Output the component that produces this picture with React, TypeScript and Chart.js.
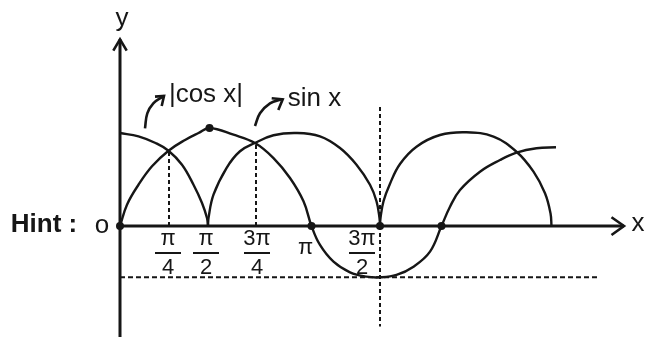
import React, { useEffect, useRef } from "react";
import { Chart, registerables } from "chart.js";

Chart.register(...registerables);

type P = [number, number];

const INK = "#161616";
const FONT = '"Liberation Sans", Arial, sans-serif';

// Curves (x in drawing units, y with peak ≈ 1)
const sinCurve: P[] = [
  [0, 0], [0.14, 0.227], [0.37, 0.439], [0.64, 0.635], [0.97, 0.801], [1.31, 0.918],
  [1.57, 0.989], [1.79, 1.043], [2.27, 0.971], [2.7, 0.883], [3.07, 0.723], [3.4, 0.511],
  [3.67, 0.263], [3.83, 0], [4.0, -0.202], [4.27, -0.38], [4.6, -0.493], [4.93, -0.539],
  [5.2, -0.546], [5.53, -0.521], [5.87, -0.433], [6.2, -0.273], [6.43, 0], [6.6, 0.205],
  [6.8, 0.383], [7.2, 0.578], [7.6, 0.702], [7.93, 0.78], [8.33, 0.827], [8.72, 0.837],
];

const absCosArc1: P[] = [
  [0, 0.989], [0.37, 0.954], [0.71, 0.883], [0.97, 0.801], [1.24, 0.652], [1.47, 0.439],
  [1.64, 0.245], [1.74, 0.085], [1.76, 0],
];

const absCosArc2: P[] = [
  [1.76, 0], [1.77, 0.085], [1.87, 0.333], [2.13, 0.617], [2.4, 0.795], [2.7, 0.883],
  [3.07, 0.965], [3.53, 0.989], [4.0, 0.954], [4.4, 0.83], [4.73, 0.652], [5.0, 0.439],
  [5.13, 0.263], [5.19, 0.085], [5.2, 0],
];

const absCosArc3: P[] = [
  [5.2, 0], [5.21, 0.085], [5.27, 0.263], [5.4, 0.45], [5.6, 0.66], [5.93, 0.844],
  [6.4, 0.968], [6.93, 0.997], [7.47, 0.95], [7.93, 0.79], [8.27, 0.578], [8.5, 0.348],
  [8.61, 0.135], [8.63, 0],
];

const keyPoints: P[] = [[0, 0], [1.79, 1.043], [3.83, 0], [5.2, 0], [6.43, 0]];

const guideLines: P[][] = [
  [[0.98, 0], [0.98, 0.8]],
  [[2.72, 0], [2.72, 0.883]],
  [[5.2, 1.266], [5.2, -1.07]],
  [[0, -0.546], [9.54, -0.546]],
];

const xAxisLine: P[] = [[0, 0], [10.08, 0]];
const yAxisLine: P[] = [[0, -1.181], [0, 1.986]];
const xArrowHead: P[] = [[9.83, 0.093], [10.08, 0], [9.83, -0.096]];
const yArrowHead: P[] = [[-0.134, 1.865], [0, 1.986], [0.134, 1.865]];

const cosPointer: P[] = [[0.5, 1.039], [0.546, 1.199], [0.666, 1.305], [0.834, 1.369], [0.88, 1.383]];
const cosPointerHead: P[] = [[0.7, 1.376], [0.88, 1.383], [0.834, 1.277]];
const sinPointer: P[] = [[2.7, 1.064], [2.8, 1.199], [3.0, 1.305], [3.234, 1.348], [3.254, 1.348]];
const sinPointerHead: P[] = [[3.034, 1.359], [3.254, 1.348], [3.166, 1.234]];

// Tick labels along the x axis
const tickValues = [0.96, 1.72, 2.74, 3.71, 4.84];
const tickNumerators = ["π", "π", "3π", "π", "3π"];
const tickDenominators = ["4", "2", "4", "", "2"];

// Annotation texts
const labelTexts = ["y", "|cos x|", "sin x", "x", "o", "Hint :"];
const labelX = [0.04, 1.72, 3.89, 10.36, -0.36, -1.52];
const labelY = [2.128, 1.319, 1.28, -0.05, -0.071, -0.067];
const labelBold = [false, false, false, false, false, true];

const X_MIN = -2.4;
const X_MAX = 10.52;
const Y_MIN = -1.1809;
const Y_MAX = 2.4043;

const toXY = (pts: P[]) => pts.map(([x, y]) => ({ x, y }));

const textPlugin = {
  id: "diagramTexts",
  afterDatasetsDraw(chart: any) {
    const { ctx } = chart;
    const xs = chart.scales.x;
    const ys = chart.scales.y;
    ctx.save();
    ctx.fillStyle = INK;
    ctx.textAlign = "center";
    ctx.textBaseline = "alphabetic";
    labelTexts.forEach((t, i) => {
      ctx.font = `${labelBold[i] ? "bold " : ""}26px ${FONT}`;
      ctx.fillText(t, xs.getPixelForValue(labelX[i]), ys.getPixelForValue(labelY[i]));
    });
    const axisY = ys.getPixelForValue(0);
    ctx.font = `22px ${FONT}`;
    tickValues.forEach((v, i) => {
      const cx = xs.getPixelForValue(v);
      if (tickDenominators[i]) {
        ctx.fillText(tickNumerators[i], cx, axisY + 19);
        ctx.fillRect(cx - 13, axisY + 26, 26, 2);
        ctx.fillText(tickDenominators[i], cx, axisY + 48.5);
      } else {
        ctx.fillText(tickNumerators[i], cx, axisY + 28.5);
      }
    });
    ctx.restore();
  },
};

function line(pts: P[], width: number, smooth: boolean, dash: number[] = []) {
  return {
    data: toXY(pts),
    showLine: true,
    borderColor: INK,
    backgroundColor: INK,
    borderWidth: width,
    borderDash: dash,
    pointRadius: 0,
    fill: false,
    tension: smooth ? 0.4 : 0,
    cubicInterpolationMode: "default",
    borderCapStyle: "butt",
    borderJoinStyle: "miter",
    clip: false,
  };
}

export default function App() {
  const ref = useRef<HTMLCanvasElement | null>(null);

  useEffect(() => {
    document.body.style.margin = "0";
    const canvas = ref.current;
    if (!canvas) return;
    const datasets: any[] = [
      {
        data: toXY(keyPoints),
        showLine: false,
        pointRadius: 4,
        pointBackgroundColor: INK,
        pointBorderWidth: 0,
        clip: false,
      },
      line(sinCurve, 2.4, true),
      line(absCosArc1, 2.4, true),
      line(absCosArc2, 2.4, true),
      line(absCosArc3, 2.4, true),
      line(xAxisLine, 3, false),
      line(yAxisLine, 3, false),
      line(xArrowHead, 2.6, false),
      line(yArrowHead, 2.6, false),
      line(cosPointer, 2.6, true),
      line(cosPointerHead, 2.6, false),
      line(sinPointer, 2.6, true),
      line(sinPointerHead, 2.6, false),
      line(guideLines[0], 2, false, [4, 3]),
      line(guideLines[1], 2, false, [4, 3]),
      line(guideLines[2], 2, false, [4, 3]),
      line(guideLines[3], 2, false, [5, 3]),
    ];
    const chart = new Chart(canvas, {
      type: "scatter",
      data: { datasets },
      options: {
        animation: false,
        responsive: false,
        devicePixelRatio: 1,
        events: [],
        layout: { padding: 0, autoPadding: false } as any,
        plugins: { legend: { display: false }, tooltip: { enabled: false } },
        scales: {
          x: { type: "linear", display: false, min: X_MIN, max: X_MAX },
          y: { type: "linear", display: false, min: Y_MIN, max: Y_MAX },
        },
      },
      plugins: [textPlugin],
    } as any);
    return () => chart.destroy();
  }, []);

  return (
    <div style={{ position: "fixed", left: 0, top: 0, width: 646, height: 337, background: "#fff" }}>
      <canvas ref={ref} width={646} height={337} style={{ display: "block" }} />
    </div>
  );
}
